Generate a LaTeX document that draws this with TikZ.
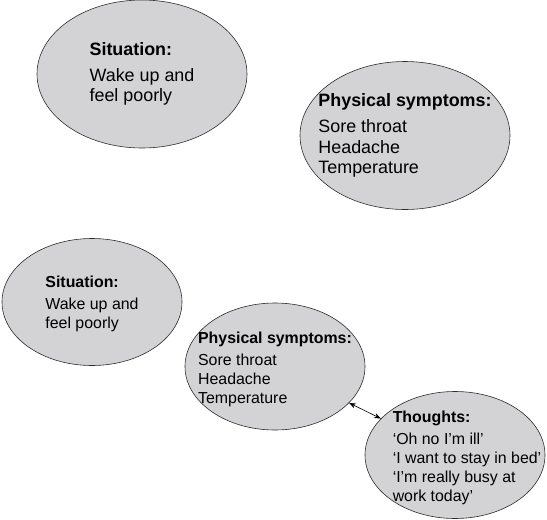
\documentclass[tikz,border=0pt]{standalone}
\usepackage{fontspec}
\setmainfont{Liberation Sans}
\usetikzlibrary{arrows.meta,shapes.geometric}
\definecolor{bubblegray}{RGB}{211,211,213}
\definecolor{rimgray}{RGB}{45,45,45}

\begin{document}
\begin{tikzpicture}[
    x=1pt,y=-1pt,
    bubbleL/.style={draw=rimgray,line width=0.6pt,fill=bubblegray,ellipse,
                    inner sep=0pt,minimum width=210pt,minimum height=148pt},
    bubbleS/.style={bubbleL,minimum width=180pt,minimum height=127pt},
    txtL/.style={align=left,inner sep=0pt,font=\fontsize{17.9}{20.5}\selectfont},
    txtS/.style={align=left,inner sep=0pt,font=\fontsize{15.9}{19}\selectfont},
    ar/.style={{Stealth[length=2.4mm]}-{Stealth[length=2.4mm]},line width=0.6pt}
  ]
  \useasboundingbox (0,0) rectangle (547,520);

  % first stage
  \node[bubbleL] (sit1) at (142,74) {};
  \node[txtL] (sit1t) at (sit1) {\textbf{Situation:}\\[5.5pt]Wake up and\\feel poorly};
  \node[bubbleL] (phys1) at (405,135.5) {};
  \node[txtL] (phys1t) at (phys1) {\textbf{Physical symptoms:}\\[5.5pt]Sore throat\\Headache\\Temperature};

  % second stage
  \node[bubbleS] (sit2) at (92,302) {};
  \node[txtS] (sit2t) at ([yshift=-2pt]sit2) {\textbf{Situation:}\\[2.5pt]Wake up and\\feel poorly};
  \node[bubbleS] (phys2) at (275,366.5) {};
  \node[txtS] (phys2t) at ([yshift=-3pt]phys2) {\textbf{Physical symptoms:}\\[2.5pt]Sore throat\\Headache\\Temperature};
  \node[bubbleS] (thou) at (455,455) {};
  \node[txtS] (thout) at ([xshift=12pt,yshift=-3pt]thou) {\textbf{Thoughts:}\\[3pt]‘Oh no I’m ill’\\‘I want to stay in bed’\\‘I’m really busy at\\work today’};
  \draw[ar] (phys2) -- (thou);
\end{tikzpicture}
\end{document}
